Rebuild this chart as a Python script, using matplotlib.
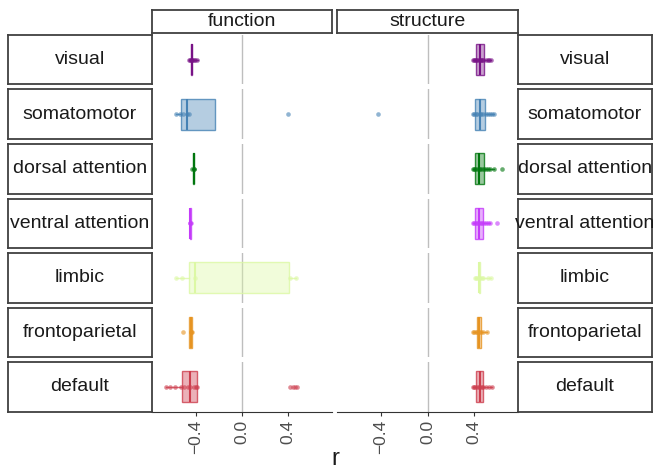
#!/usr/bin/env python3

import matplotlib
matplotlib.use('Agg')
import matplotlib.pyplot as plt
from matplotlib.colors import to_rgba

plt.rcParams['font.family'] = ['Liberation Sans', 'DejaVu Sans']

networks = ['visual', 'somatomotor', 'dorsal attention', 'ventral attention',
            'limbic', 'frontoparietal', 'default']
colors = ['#781286', '#4682B4', '#00760E', '#C43AFA', '#DCF8A4', '#E69422', '#CD3E4E']
facets = ['function', 'structure']
tick_vals = [-0.4, 0.0, 0.4]
tick_labels = ['\u22120.4', '0.0', '0.4']

# box stats per network: q1, median, q3, whisker low, whisker high
fn_q1 = [-0.445, -0.525, -0.425, -0.455, -0.46, -0.46, -0.516]
fn_med = [-0.435, -0.48, -0.42, -0.45, -0.41, -0.445, -0.452]
fn_q3 = [-0.43, -0.235, -0.415, -0.445, 0.41, -0.43, -0.394]
fn_lo = [-0.46, -0.57, -0.43, -0.455, -0.57, -0.46, -0.655]
fn_hi = [-0.385, -0.235, -0.41, -0.445, 0.47, -0.43, -0.39]
fn_points = [
    [-0.46, -0.45, -0.44, -0.435, -0.43, -0.42, -0.41, -0.39],
    [-0.57, -0.54, -0.51, -0.48, -0.46, 0.40],
    [-0.43, -0.42, -0.415],
    [-0.455, -0.45, -0.445],
    [-0.57, -0.52, -0.41, 0.42, 0.47],
    [-0.51, -0.445, -0.44, -0.43],
    [-0.655, -0.62, -0.58, -0.53, -0.5, -0.47, -0.45, -0.42, -0.40, -0.39,
     0.42, 0.44, 0.46, 0.48],
]

st_q1 = [0.417, 0.41, 0.41, 0.41, 0.44, 0.426, 0.417]
st_med = [0.45, 0.45, 0.44, 0.445, 0.446, 0.44, 0.45]
st_q3 = [0.49, 0.496, 0.485, 0.48, 0.452, 0.46, 0.48]
st_lo = [0.39, 0.39, 0.39, 0.39, 0.41, 0.39, 0.39]
st_hi = [0.55, 0.575, 0.575, 0.54, 0.55, 0.51, 0.56]
st_points = [
    [0.39, 0.40, 0.41, 0.42, 0.43, 0.44, 0.45, 0.46, 0.47, 0.48, 0.5, 0.52, 0.53, 0.55],
    [-0.43, 0.39, 0.40, 0.42, 0.43, 0.45, 0.46, 0.48, 0.50, 0.52, 0.54, 0.555, 0.575],
    [0.39, 0.40, 0.41, 0.43, 0.44, 0.45, 0.47, 0.49, 0.5, 0.52, 0.54, 0.575, 0.645],
    [0.39, 0.40, 0.42, 0.43, 0.44, 0.46, 0.47, 0.49, 0.5, 0.52, 0.54, 0.6],
    [0.41, 0.42, 0.43, 0.44, 0.45, 0.47, 0.48, 0.52, 0.55],
    [0.39, 0.40, 0.42, 0.43, 0.44, 0.46, 0.48, 0.51],
    [0.39, 0.40, 0.41, 0.43, 0.44, 0.45, 0.47, 0.48, 0.5, 0.53, 0.56],
]

W, H = 654, 473
fig = plt.figure(figsize=(W / 100, H / 100), dpi=100)


def rect(x0, y0, x1, y1):
    return [x0 / W, 1 - y1 / H, (x1 - x0) / W, (y1 - y0) / H]


def strip(x0, y0, x1, y1, label):
    sa = fig.add_axes(rect(x0, y0, x1, y1))
    sa.set_xticks([])
    sa.set_yticks([])
    for s in sa.spines.values():
        s.set_color('#404040')
        s.set_linewidth(1.3)
    sa.text(0.5, 0.5, label, ha='center', va='center', fontsize=14,
            color='#1A1A1A', transform=sa.transAxes)


col_x = [(152, 332), (337, 518)]
row_top = 35
row_h = 49.5
row_gap = 5

stats = [(fn_q1, fn_med, fn_q3, fn_lo, fn_hi, fn_points),
         (st_q1, st_med, st_q3, st_lo, st_hi, st_points)]

for j, (x0, x1) in enumerate(col_x):
    strip(x0, 10, x1, 33, facets[j])
    q1, med, q3, lo, hi, pts = stats[j]
    for i, net in enumerate(networks):
        y0 = row_top + i * (row_h + row_gap)
        y1 = y0 + row_h
        ax = fig.add_axes(rect(x0, y0, x1, y1))
        ax.set_xlim(-0.78, 0.78)
        ax.set_ylim(0.4, 1.6)
        ax.axvline(0, color='#BEBEBE', lw=1, zorder=0)
        c = colors[i]
        ax.bxp([{'q1': q1[i], 'med': med[i], 'q3': q3[i],
                 'whislo': lo[i], 'whishi': hi[i], 'fliers': []}],
               positions=[1], widths=0.75, orientation='horizontal',
               patch_artist=True, showcaps=False,
               boxprops=dict(facecolor=to_rgba(c, 0.4), edgecolor=to_rgba(c, 0.8), lw=1),
               medianprops=dict(color=c, lw=1.5),
               whiskerprops=dict(color=to_rgba(c, 0.8), lw=1))
        ax.scatter(pts[i], [1] * len(pts[i]), s=11, color=c, alpha=0.6,
                   lw=0, zorder=3)
        for s in ax.spines.values():
            s.set_visible(False)
        ax.set_yticks([])
        if i == len(networks) - 1:
            ax.spines['bottom'].set_visible(True)
            ax.spines['bottom'].set_color('#333333')
            ax.set_xticks(tick_vals)
            ax.set_xticklabels(tick_labels, rotation=90, fontsize=12.5, color='#4D4D4D')
            ax.tick_params(axis='x', length=3, color='#333333', pad=3)
        else:
            ax.set_xticks([])
        if j == 0:
            strip(8, y0, 152, y1, net)
        else:
            strip(518, y0, 652, y1, net)

fig.text(335 / W, 1 - 459 / H, 'r', ha='center', va='center', fontsize=17, color='#1A1A1A')

fig.savefig('out.png', dpi=100)
